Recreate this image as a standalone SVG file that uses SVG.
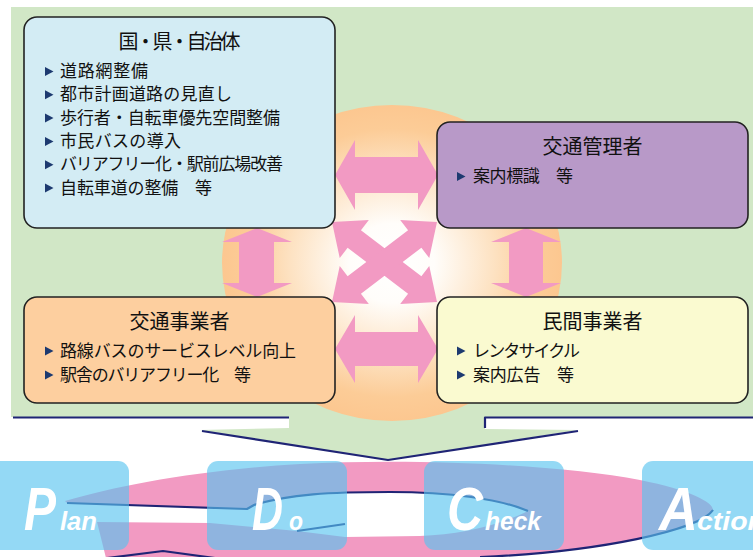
<svg xmlns="http://www.w3.org/2000/svg" width="753" height="557" viewBox="0 0 753 557">
<defs>
<radialGradient id="glow" cx="0.5" cy="0.5" r="0.5">
<stop offset="0" stop-color="#ffffff"/>
<stop offset="0.25" stop-color="#fffdfa"/>
<stop offset="0.6" stop-color="#fde2c2"/>
<stop offset="0.85" stop-color="#fccc97"/>
<stop offset="1" stop-color="#fcc790"/>
</radialGradient>
<polygon id="bul" points="0,-4.5 8.5,0 0,4.5"/>
<path id="darr" d="M-66,0 L-38,-24 L-38,-11 L38,-11 L38,-24 L66,0 L38,24 L38,11 L-38,11 L-38,24 Z"/>
</defs>
<style>
.box{stroke:#222;stroke-width:1.6}
.t{font-family:"Noto Sans CJK JP","Noto Sans",sans-serif;fill:#111}
.ttl{font-size:20px;text-anchor:middle}
.it{font-size:17px}
.bul{fill:#1d3a70}
.arr{fill:#f29ac3}
.nv{fill:none;stroke:#1f2475;stroke-width:2.2;stroke-linejoin:round}
.pbox{fill:#57c3ef;fill-opacity:0.64}
.pd{font-family:"Liberation Sans",Arial,sans-serif;font-weight:bold;font-style:italic;fill:#ffffff}
</style>
<rect width="753" height="557" fill="#ffffff"/>

<g id="background">
<path d="M11,7 H753 V417 H485 V429 L578,430 L388,460 L200,430 L289,428 V417 H11 Z" fill="#d1e7c6"/>
<path class="nv" d="M13,417.5 H289"/>
<path class="nv" d="M485,428 V417.5 H753"/>
<path class="nv" d="M202,431 L388,460 L578,431"/>
<ellipse cx="392" cy="263" rx="170" ry="158" fill="url(#glow)"/>
</g>

<g id="connectors">
<path class="arr" d="M335,175 L355,140 L355,157 L418,157 L418,140 L438,175 L418,210 L418,193 L355,193 L355,210 Z"/>
<path class="arr" d="M335,349 L355,315 L355,332 L418,332 L418,315 L438,349 L418,383 L418,366 L355,366 L355,383 Z"/>
<path class="arr" d="M257,228 L292,242 L274,242 L274,283 L292,283 L257,297 L222,283 L239,283 L239,242 L222,242 Z"/>
<path class="arr" d="M526,228 L561,242 L543,242 L543,283 L561,283 L526,297 L491,283 L509,283 L509,242 L491,242 Z"/>
<use href="#darr" class="arr" transform="translate(384.5,262) rotate(37.3)"/>
<use href="#darr" class="arr" transform="translate(384.5,262) rotate(-37.3)"/>
</g>

<g id="node-kuni">
<rect class="box" x="24" y="17" width="311" height="211" rx="13" fill="#d3ecf4"/>
<text class="t ttl" x="179.5" y="49" textLength="122">国・県・自治体</text>
<use href="#bul" class="bul" x="45" y="71.5"/>
<use href="#bul" class="bul" x="45" y="94.8"/>
<use href="#bul" class="bul" x="45" y="118.1"/>
<use href="#bul" class="bul" x="45" y="141.5"/>
<use href="#bul" class="bul" x="45" y="164.7"/>
<use href="#bul" class="bul" x="45" y="188"/>
<text class="t it" x="60" y="77" textLength="88">道路網整備</text>
<text class="t it" x="60" y="100.3" textLength="172">都市計画道路の見直し</text>
<text class="t it" x="60" y="123.6" textLength="220">歩行者・自転車優先空間整備</text>
<text class="t it" x="60" y="147" textLength="121">市民バスの導入</text>
<text class="t it" x="60" y="170.2" textLength="223">バリアフリー化・駅前広場改善</text>
<text class="t it" x="60" y="193.5" textLength="152">自転車道の整備　等</text>
</g>

<g id="node-kotsu-kanri">
<rect class="box" x="437" y="122" width="311" height="106" rx="13" fill="#b899c8"/>
<text class="t ttl" x="592.5" y="154">交通管理者</text>
<use href="#bul" class="bul" x="457" y="176.5"/>
<text class="t it" x="473" y="182" textLength="100">案内標識　等</text>
</g>

<g id="node-kotsu-jigyo">
<rect class="box" x="24" y="297" width="311" height="106" rx="13" fill="#fdcf9f"/>
<text class="t ttl" x="179.5" y="329">交通事業者</text>
<use href="#bul" class="bul" x="45" y="351"/>
<use href="#bul" class="bul" x="45" y="375"/>
<text class="t it" x="60" y="356.5" textLength="236">路線バスのサービスレベル向上</text>
<text class="t it" x="60" y="380.5" textLength="191">駅舎のバリアフリー化　等</text>
</g>

<g id="node-minkan">
<rect class="box" x="437" y="297" width="311" height="106" rx="13" fill="#fafad0"/>
<text class="t ttl" x="592.5" y="329">民間事業者</text>
<use href="#bul" class="bul" x="457" y="351"/>
<use href="#bul" class="bul" x="457" y="375"/>
<text class="t it" x="473" y="356.5" textLength="107">レンタサイクル</text>
<text class="t it" x="473" y="380.5" textLength="101">案内広告　等</text>
</g>

<g id="pdca-cycle">
<path fill="#f29ac2" d="M65,501 C120,485 200,470 300,464 C420,458 560,465 640,480 C690,490 713,502 713,510 C700,530 600,552 480,557 L480,562 L107,562 L97,522 L210,523 L297,531 L345,537 L420,536 C460,535 500,525 528,511 C500,499 450,492 390,492 C330,492 290,494 254,505 L247,509 L67,503 Z"/>
<path class="nv" d="M67,503 L247,509 L254,505 C290,494 330,492 390,492 C450,492 500,499 528,511"/>
<path class="nv" d="M297,531 L345,524"/>
<path class="nv" d="M713,510 C700,530 600,552 480,557"/>
<path class="nv" d="M107,558 L163,551 L215,558"/>
</g>

<g id="node-plan">
<rect class="pbox" x="-11" y="461" width="140" height="89" rx="11"/>
<text class="pd" y="530"><tspan x="24" font-size="62" textLength="32" lengthAdjust="spacingAndGlyphs">P</tspan><tspan x="60" font-size="25" textLength="37" lengthAdjust="spacingAndGlyphs">lan</tspan></text>
</g>
<g id="node-do">
<rect class="pbox" x="207" y="461" width="140" height="89" rx="11"/>
<text class="pd" y="530"><tspan x="252" font-size="62" textLength="31" lengthAdjust="spacingAndGlyphs">D</tspan><tspan x="289" font-size="25" textLength="14" lengthAdjust="spacingAndGlyphs">o</tspan></text>
</g>
<g id="node-check">
<rect class="pbox" x="424" y="461" width="140" height="89" rx="11"/>
<text class="pd" y="530"><tspan x="447" font-size="62" textLength="36" lengthAdjust="spacingAndGlyphs">C</tspan><tspan x="485" font-size="25" textLength="56" lengthAdjust="spacingAndGlyphs">heck</tspan></text>
</g>
<g id="node-action">
<rect class="pbox" x="642" y="461" width="140" height="89" rx="11"/>
<text class="pd" y="530"><tspan x="659" font-size="62" textLength="39" lengthAdjust="spacingAndGlyphs">A</tspan><tspan x="697" font-size="25" textLength="68" lengthAdjust="spacingAndGlyphs">ction</tspan></text>
</g>
</svg>
